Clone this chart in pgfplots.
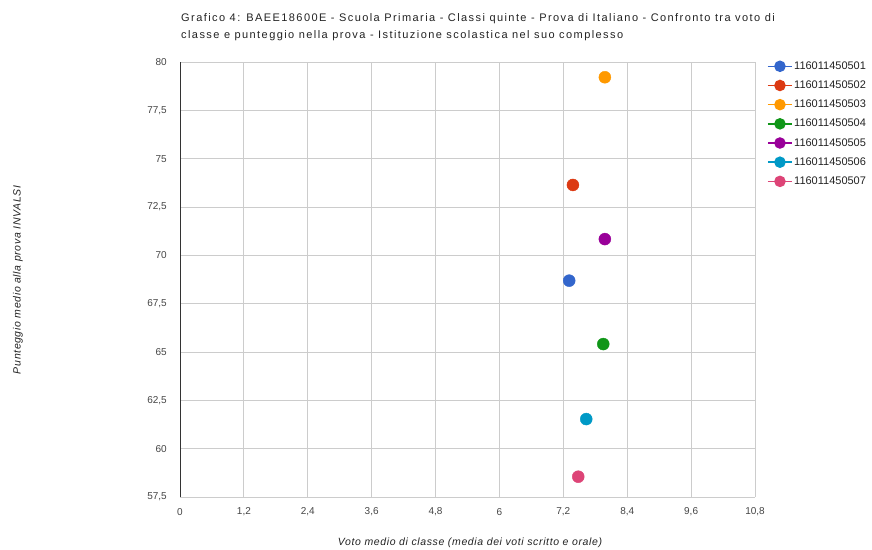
\documentclass[border=0pt]{standalone}
\usepackage{pgfplots}
\pgfplotsset{compat=1.18}
\usepackage{fontspec}
\setmainfont{Liberation Sans}
\newfontfamily\titlefont[LetterSpace=13]{Liberation Sans}
\newfontfamily\labelfont[LetterSpace=6]{Liberation Sans}
\definecolor{c1}{HTML}{3366CC}
\definecolor{c2}{HTML}{DC3912}
\definecolor{c3}{HTML}{FF9900}
\definecolor{c4}{HTML}{109618}
\definecolor{c5}{HTML}{990099}
\definecolor{c6}{HTML}{0099C6}
\definecolor{c7}{HTML}{DD4477}
\definecolor{gridgray}{HTML}{CCCCCC}
\definecolor{axisdark}{HTML}{333333}
\definecolor{txt}{HTML}{222222}
\definecolor{ticktxt}{HTML}{444444}
\begin{document}
\begin{tikzpicture}[x=1pt,y=1pt]
\useasboundingbox (0,0) rectangle (872,549);
\node[anchor=west, inner sep=0pt, text=txt, font=\titlefont\fontsize{11}{12}\selectfont] at (181,530) {Grafico 4: BAEE18600E - Scuola Primaria - Classi quinte - Prova di Italiano - Confronto tra voto di};
\node[anchor=west, inner sep=0pt, text=txt, font=\titlefont\fontsize{11}{12}\selectfont] at (181,513) {classe e punteggio nella prova - Istituzione scolastica nel suo complesso};
\node[rotate=90, inner sep=0pt, text=txt, font=\labelfont\fontsize{10.5}{12}\selectfont\itshape] at (18,269) {Punteggio medio alla prova INVALSI};
\node[inner sep=0pt, text=txt, font=\labelfont\fontsize{10.5}{12}\selectfont\itshape] at (470,6) {Voto medio di classe (media dei voti scritto e orale)};
\begin{axis}[
  at={(180pt,52pt)}, anchor=south west,
  scale only axis, width=575pt, height=435pt,
  xmin=0, xmax=10.8, ymin=57.5, ymax=80,
  xtick={0,1.2,2.4,3.6,4.8,6,7.2,8.4,9.6,10.8},
  xticklabels={0,{1,2},{2,4},{3,6},{4,8},6,{7,2},{8,4},{9,6},{10,8}},
  ytick={57.5,60,62.5,65,67.5,70,72.5,75,77.5,80},
  yticklabels={{57,5},60,{62,5},65,{67,5},70,{72,5},75,{77,5},80},
  grid=major,
  major grid style={draw=gridgray, line width=0.9pt},
  axis lines*=left,
  x axis line style={draw=gridgray, line width=0.9pt, -},
  y axis line style={draw=axisdark, line width=1pt, -},
  major tick length=0pt,
  tick label style={font=\fontsize{10}{12}\selectfont, text=ticktxt},
  yticklabel style={anchor=east, inner sep=0pt, xshift=-13pt},
  xticklabel style={anchor=center, inner sep=0pt, yshift=-15pt},
  clip=false,
  legend style={at={(1,1)}, anchor=north west, xshift=12pt, yshift=2pt, draw=none, fill=none,
    font=\fontsize{11}{12}\selectfont, text=txt, row sep=7pt, inner sep=0pt,
    nodes={inner sep=1.5pt}},
  legend cell align=left,
  legend image code/.code={\draw[mark repeat=2,mark phase=2,#1,mark size=5pt,line width=1.5pt] plot coordinates {(0pt,0pt)(12pt,0pt)(24pt,0pt)};},
]
\addplot[draw=c1, fill=c1, mark=*, mark size=6pt] coordinates {(7.31,68.69)};
\addlegendentry{116011450501}
\addplot[draw=c2, fill=c2, mark=*, mark size=6pt] coordinates {(7.38,73.64)};
\addlegendentry{116011450502}
\addplot[draw=c3, fill=c3, mark=*, mark size=6pt] coordinates {(7.98,79.21)};
\addlegendentry{116011450503}
\addplot[draw=c4, fill=c4, mark=*, mark size=6pt] coordinates {(7.95,65.41)};
\addlegendentry{116011450504}
\addplot[draw=c5, fill=c5, mark=*, mark size=6pt] coordinates {(7.98,70.84)};
\addlegendentry{116011450505}
\addplot[draw=c6, fill=c6, mark=*, mark size=6pt] coordinates {(7.63,61.53)};
\addlegendentry{116011450506}
\addplot[draw=c7, fill=c7, mark=*, mark size=6pt] coordinates {(7.48,58.55)};
\addlegendentry{116011450507}
\end{axis}
\end{tikzpicture}
\end{document}
